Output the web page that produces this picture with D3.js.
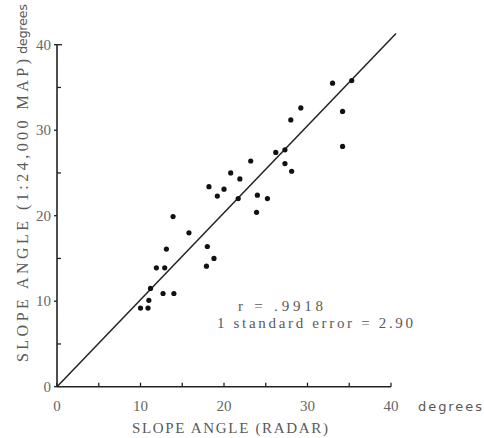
<!DOCTYPE html>
<html><head><meta charset="utf-8">
<script src="https://cdn.jsdelivr.net/npm/d3@7"></script>
<style>body{margin:0;background:#fff}svg{display:block}</style>
</head><body>
<script>
const radarX = [33.0,35.3,29.2,28.0,34.2,34.2,27.3,26.2,27.3,28.1,23.2,20.8,21.9,18.2,20.0,19.2,21.7,24.0,25.2,23.9,13.9,15.8,18.0,18.8,17.9,13.1,11.9,12.9,11.2,12.7,14.0,11.0,10.0,10.9];
const mapY   = [35.5,35.8,32.6,31.2,32.2,28.1,27.7,27.4,26.1,25.2,26.4,25.0,24.3,23.4,23.1,22.3,22.0,22.4,22.0,20.4,19.9,18.0,16.4,15.0,14.1,16.1,13.9,13.9,11.5,10.9,10.9,10.1,9.2,9.2];
const fitLine = [[0,0],[40.6,41.3]];
const xTicks = [0,10,20,30,40];
const yTicks = [0,10,20,30,40];
const minorTicks = [5,15,25,35];
const notes = ["r = .9918","1 standard error = 2.90"];

const W=484,H=438;
const svg=d3.select("body").append("svg").attr("width",W).attr("height",H);
const x=d3.scaleLinear().domain([0,40]).range([57,391]);
const y=d3.scaleLinear().domain([0,40]).range([386.7,44.7]);
const serif="'Liberation Serif','DejaVu Serif',serif";
const sans="'DejaVu Sans',sans-serif";
const txt="#5a5a5a";

svg.append("line").attr("x1",x(0)).attr("x2",x(40)).attr("y1",y(0)).attr("y2",y(0)).attr("stroke","#222").attr("stroke-width",1.6);
svg.append("line").attr("x1",x(0)).attr("x2",x(0)).attr("y1",y(0)).attr("y2",y(40)).attr("stroke","#222").attr("stroke-width",1.6);

svg.selectAll(".xt").data(xTicks.concat(minorTicks)).join("line")
  .attr("x1",d=>x(d)).attr("x2",d=>x(d)).attr("y1",y(0)).attr("y2",y(0)-4)
  .attr("stroke","#222").attr("stroke-width",1.3);
svg.selectAll(".ytM").data(yTicks).join("line")
  .attr("x1",x(0)-3).attr("x2",x(0)).attr("y1",d=>y(d)).attr("y2",d=>y(d))
  .attr("stroke","#222").attr("stroke-width",1.3);
svg.append("line").attr("x1",x(0)).attr("x2",x(0)+5).attr("y1",y(40)).attr("y2",y(40)).attr("stroke","#222").attr("stroke-width",1.3);
svg.selectAll(".ytm").data(minorTicks).join("line")
  .attr("x1",x(0)).attr("x2",x(0)+4).attr("y1",d=>y(d)).attr("y2",d=>y(d))
  .attr("stroke","#222").attr("stroke-width",1.3);

svg.selectAll(".xl").data(xTicks).join("text")
  .attr("x",d=>x(d)).attr("y",411).attr("text-anchor","middle")
  .attr("font-family",serif).attr("font-size",15).attr("fill","#666").text(d=>d);
svg.selectAll(".yl").data(yTicks).join("text")
  .attr("x",x(0)-6).attr("y",d=>y(d)+5).attr("text-anchor","end")
  .attr("font-family",serif).attr("font-size",15).attr("fill","#666").text(d=>d);

svg.append("text").attr("x",418).attr("y",411).attr("font-family",sans)
  .attr("font-size",13).attr("fill",txt).attr("textLength",64).attr("lengthAdjust","spacing").text("degrees");
svg.append("text").attr("x",132).attr("y",433)
  .attr("font-family",serif).attr("font-size",15).attr("fill",txt)
  .attr("textLength",196).attr("lengthAdjust","spacing").text("SLOPE ANGLE  (RADAR)");
svg.append("text").attr("transform","translate(28,362) rotate(-90)")
  .attr("font-family",serif).attr("font-size",16).attr("fill",txt)
  .attr("textLength",303).attr("lengthAdjust","spacing").text("SLOPE ANGLE  (1:24,000 MAP)");
svg.append("text").attr("transform","translate(27,54) rotate(-90)")
  .attr("font-family",sans).attr("font-size",13).attr("fill",txt)
  .attr("textLength",50).attr("lengthAdjust","spacing").text("degrees");

svg.append("path").datum(fitLine)
  .attr("d",d3.line().x(d=>x(d[0])).y(d=>y(d[1])))
  .attr("stroke","#222").attr("stroke-width",1.5).attr("fill","none");

svg.selectAll(".pt").data(radarX.map((v,i)=>[v,mapY[i]])).join("circle")
  .attr("cx",d=>x(d[0])).attr("cy",d=>y(d[1])).attr("r",2.6).attr("fill","#111");

svg.append("text").attr("x",238).attr("y",311)
  .attr("font-family",serif).attr("font-size",15).attr("fill",txt)
  .attr("textLength",85).attr("lengthAdjust","spacing").text(notes[0]);
svg.append("text").attr("x",217).attr("y",328)
  .attr("font-family",serif).attr("font-size",15).attr("fill",txt)
  .attr("textLength",196).attr("lengthAdjust","spacing").text(notes[1]);
</script>
</body></html>
